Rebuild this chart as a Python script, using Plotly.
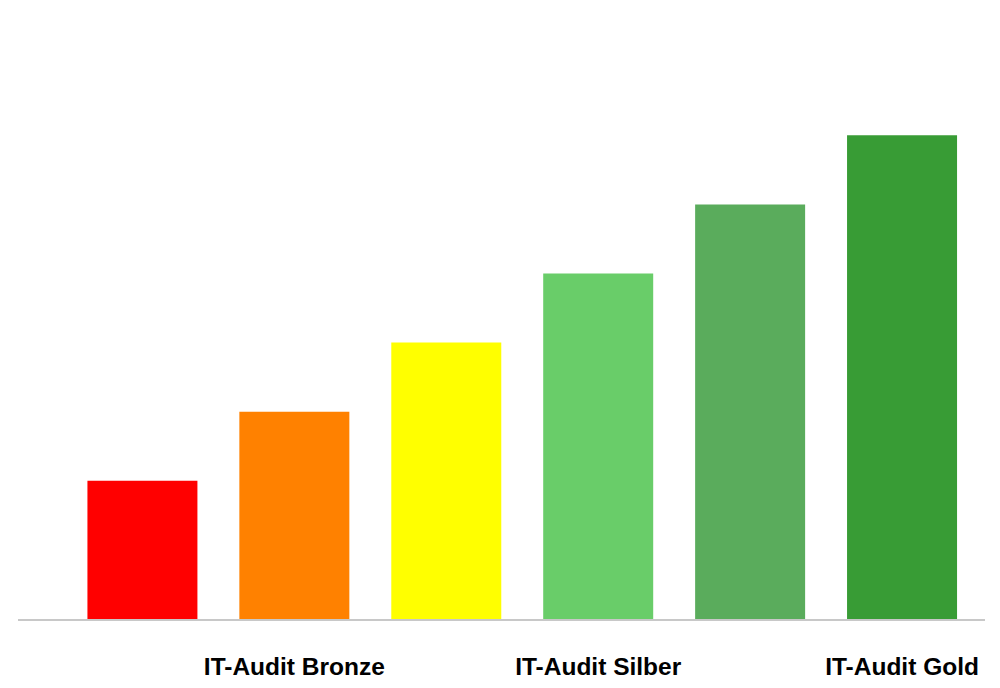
import plotly.graph_objs as go

# levels 1..6, only every second one is labelled
levels = [1, 2, 3, 4, 5, 6]
values = [2, 3, 4, 5, 6, 7]
colors = ["#ff0000", "#ff8100", "#ffff00", "#69cd69", "#5aac5c", "#389c35"]
tick_levels = [2, 4, 6]
tick_labels = ["IT-Audit Bronze", "IT-Audit Silber", "IT-Audit Gold"]

trace = go.Bar(
    x = levels,
    y = values,
    width = 0.724,
    marker = dict(color = colors, line = dict(width = 0)),
    hoverinfo = "skip"
)

# page body has an 8px margin, so the figure is 992 x 680
layout = go.Layout(
    width = 992,
    height = 680,
    margin = dict(l = 10, r = 15, t = 0, b = 69),
    paper_bgcolor = "white",
    plot_bgcolor = "white",
    showlegend = False,
    font = dict(family = "Liberation Sans, Arial, sans-serif", color = "black"),
    xaxis = dict(
        range = [0.181, 6.546],
        tickvals = tick_levels,
        ticktext = ["<b>%s</b>" % t for t in tick_labels],
        tickfont = dict(size = 24.5),
        showline = True,
        linecolor = "#c8c8c8",
        linewidth = 2,
        showgrid = False,
        zeroline = False,
        ticks = "",
        ticklabelstandoff = 25
    ),
    yaxis = dict(
        range = [0, 8.842],
        visible = False,
        showgrid = False,
        zeroline = False
    )
)

fig = go.Figure(data = [trace], layout = layout)
fig.write_html("out.html")
